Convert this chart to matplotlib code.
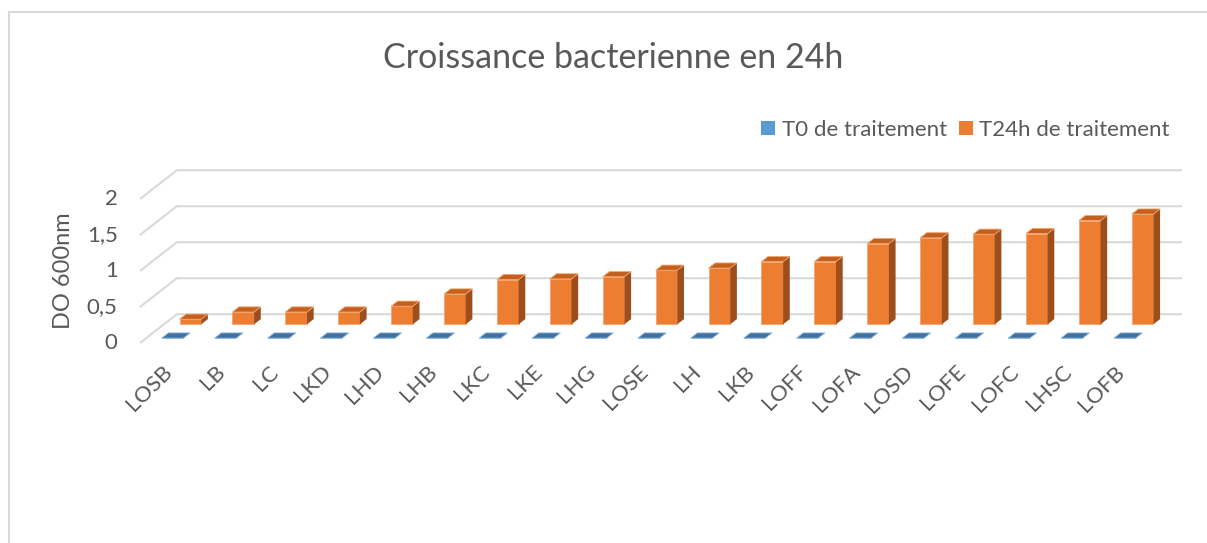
import matplotlib
matplotlib.use('Agg')
import matplotlib.pyplot as plt
from matplotlib.patches import Polygon, Rectangle, Patch
import numpy as np

# donnees
categories = ['LOSB', 'LB', 'LC', 'LKD', 'LHD', 'LHB', 'LKC', 'LKE', 'LHG', 'LOSE',
              'LH', 'LKB', 'LOFF', 'LOFA', 'LOSD', 'LOFE', 'LOFC', 'LHSC', 'LOFB']
t0_values = [0, 0, 0, 0, 0, 0, 0, 0, 0, 0, 0, 0, 0, 0, 0, 0, 0, 0, 0]
t24_values = [0.07, 0.17, 0.17, 0.17, 0.25, 0.42, 0.62, 0.63, 0.66, 0.75,
              0.78, 0.87, 0.87, 1.12, 1.20, 1.25, 1.26, 1.44, 1.53]
y_ticks = [0, 0.5, 1, 1.5, 2]
y_tick_labels = ['0', '0,5', '1', '1,5', '2']
series_names = ['T0 de traitement', 'T24h de traitement']
title = 'Croissance bacterienne en 24h'
y_title = 'DO 600nm'

plt.rcParams['font.family'] = ['Lato', 'DejaVu Sans']
txt_col = '#595959'
grid_col = '#d9d9d9'

W, H = 1207, 543
fig = plt.figure(figsize=(W / 100, H / 100), dpi=100)
ax = fig.add_axes([0, 0, 1, 1])

# echelle : pixels par categorie / par unite, origine au bord avant du sol
px_cat, px_val = 52.9, 72.0
x0_pix, y0_pix = 166.3, 343.0
ax.set_xlim(-x0_pix / px_cat, (W - x0_pix) / px_cat)
ax.set_ylim((y0_pix - H) / px_val, y0_pix / px_val)
ax.axis('off')

# vue oblique : decalage par unite de profondeur
depth_dx, depth_dy = 0.70, 0.40


def proj(x, v, d):
    return (x + depth_dx * d, v + depth_dy * d)


x_left, x_right = -0.5, len(categories) - 0.5

# quadrillage (paroi gauche + fond)
for v in y_ticks:
    p0 = proj(x_left, v, 0)
    p1 = proj(x_left, v, 1)
    p2 = proj(x_right, v, 1)
    ax.plot([p0[0], p1[0], p2[0]], [p0[1], p1[1], p2[1]], color=grid_col, lw=1.5,
            zorder=1, solid_capstyle='butt')


def draw_bars(values, d0, d1, front, top, side, edge, z):
    w = 0.41
    x = np.arange(len(values))
    fx, fy = proj(x, 0, d0)
    ax.bar(fx, values, width=w, bottom=fy, color=front, edgecolor=edge,
           linewidth=0.6, zorder=z)
    for i, v in enumerate(values):
        if v > 0:
            s = [proj(i + w / 2, 0, d0), proj(i + w / 2, v, d0),
                 proj(i + w / 2, v, d1), proj(i + w / 2, 0, d1)]
            ax.add_patch(Polygon(s, closed=True, facecolor=side, edgecolor='none', zorder=z))
        t = [proj(i - w / 2, v, d0), proj(i + w / 2, v, d0),
             proj(i + w / 2, v, d1), proj(i - w / 2, v, d1)]
        ax.add_patch(Polygon(t, closed=True, facecolor=top, edgecolor=edge,
                             linewidth=0.6, zorder=z))


draw_bars(t24_values, 0.65, 0.83, '#ED7D31', '#C4601E', '#9C4F1D', '#F4A46E', 3)
draw_bars(t0_values, 0.17, 0.35, '#5B9BD5', '#41719C', '#2F5F8C', '#8DB8E3', 4)

# etiquettes axe vertical
for v, lab in zip(y_ticks, y_tick_labels):
    ax.text(x_left - 0.42, v, lab, ha='right', va='center', fontsize=16, color=txt_col)
ax.text(x_left - 1.45, 1.0, y_title, rotation=90, ha='center', va='center',
        fontsize=17, color=txt_col)

# etiquettes categories
for i, lab in enumerate(categories):
    ax.text(i - 0.08, -0.26, lab, rotation=45, ha='right', va='top',
            rotation_mode='anchor', fontsize=16, color=txt_col)

fig.text(613 / W, 1 - 67.5 / H, title, ha='center', va='baseline', fontsize=24.5, color=txt_col)

handles = [Patch(facecolor='#5B9BD5'), Patch(facecolor='#ED7D31')]
fig.legend(handles, series_names, loc='center right', bbox_to_anchor=(1181 / W, 1 - 130 / H),
           ncol=2, frameon=False, fontsize=16, handlelength=0.62, handleheight=0.62,
           handletextpad=0.3, columnspacing=0.55, borderpad=0, labelcolor=txt_col)

# cadre du graphique
fig.add_artist(Rectangle((9 / W, -0.5), 2, 1.5 - 12 / H, transform=fig.transFigure,
                         fill=False, edgecolor=grid_col, lw=1.5))

fig.savefig('out.png', dpi=100)
